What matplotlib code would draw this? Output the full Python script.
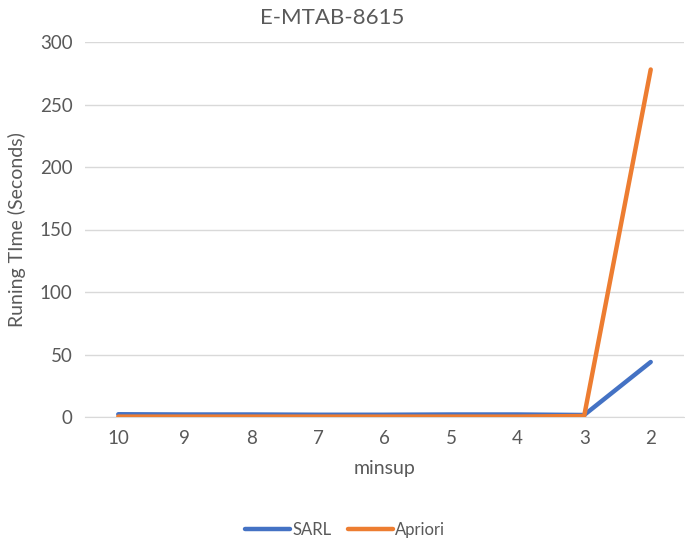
import matplotlib
matplotlib.use("Agg")
import matplotlib.pyplot as plt

categories = ["10", "9", "8", "7", "6", "5", "4", "3", "2"]
sarl = [2.2, 2.0, 2.0, 1.8, 1.8, 2.0, 2.0, 1.6, 44]
apriori = [0.3, 0.3, 0.3, 0.3, 0.3, 0.3, 0.3, 0.8, 278]
yticks = [0, 50, 100, 150, 200, 250, 300]

plt.rcParams['font.family'] = ['Lato', 'DejaVu Sans']
gray = '#595959'

fig = plt.figure(figsize=(6.85, 5.44), dpi=100)
ax = fig.add_axes([85/685, 1-417/544, (684-85)/685, (417-42)/544])
x = list(range(len(categories)))
ax.plot(x, sarl, color='#4472C4', lw=3.2, solid_capstyle='round', label='SARL', zorder=3)
ax.plot(x, apriori, color='#ED7D31', lw=3.2, solid_capstyle='round', label='Apriori', zorder=4)
ax.set_xlim(-0.5, len(categories)-0.5)
ax.set_ylim(0, 300)
ax.set_yticks(yticks)
ax.set_xticks(x)
ax.set_xticklabels(categories)
ax.grid(axis='y', color='#D9D9D9', lw=1)
ax.set_axisbelow(True)
for s in ['top', 'right', 'left']:
    ax.spines[s].set_visible(False)
ax.spines['bottom'].set_color('#D9D9D9')
ax.tick_params(length=0, labelsize=13.5, colors=gray, pad=9)
ax.set_xlabel('minsup', fontsize=14, color=gray, labelpad=10)
ax.set_ylabel('Runing TIme (Seconds)', fontsize=14, color=gray, labelpad=10)
fig.text(332/685, 1-18/544, 'E-MTAB-8615', ha='center', va='center', fontsize=16, color=gray)
fig.legend(loc='center', bbox_to_anchor=(345/685, 1-530/544), ncol=2, frameon=False,
           fontsize=12, labelcolor=gray, handlelength=2.7, columnspacing=1.0, handletextpad=0.1)
fig.savefig('out.png', dpi=100)
